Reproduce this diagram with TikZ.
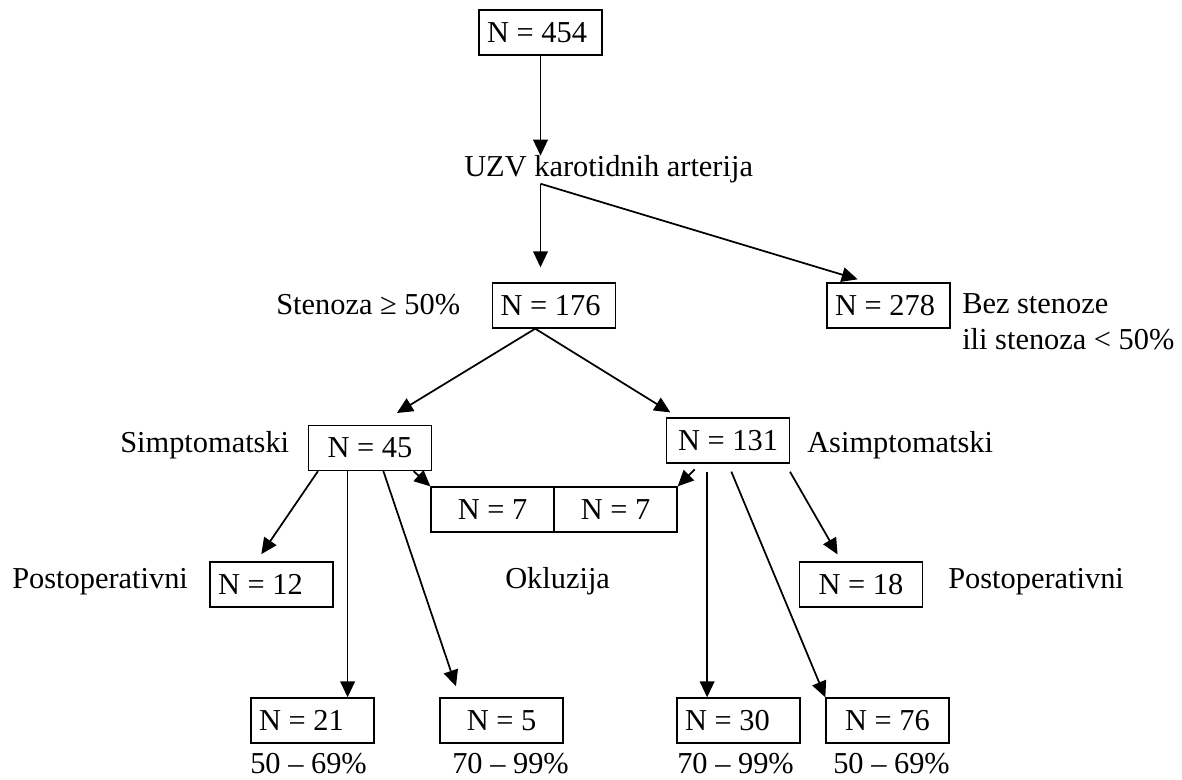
\documentclass[tikz,border=0pt]{standalone}
\usepackage{fontspec}
\setmainfont{Liberation Serif}
\usetikzlibrary{arrows.meta}

\newcommand\lft[1]{\makebox[80pt][l]{#1}}

\begin{document}
\begin{tikzpicture}[x=0.75pt,y=-0.75pt,
  font=\fontsize{22.8}{27}\selectfont,
  box/.style={draw, line width=1pt, minimum width=92.25pt, minimum height=33.75pt, inner sep=0pt},
  txt/.style={anchor=base west, inner sep=0pt},
  arr/.style={-{Triangle[length=12pt,width=11pt]}, line width=1.3pt}]

\useasboundingbox (0,0) rectangle (1182,780);

\node [box] (n454) at (540.5,32.5) {\lft{N = 454}};
\node [txt] (uzv) at (464,177) {UZV karotidnih arterija};

\node [txt] (sten) at (276,315) {Stenoza ≥ 50\%};
\node [box] (n176) at (554,305.5) {\lft{N = 176}};
\node [box] (n278) at (888.5,305.5) {\lft{N = 278}};
\node [txt] (bez) at (962,314) {Bez stenoze};
\node [txt] (ili) at (962,350) {ili stenoza < 50\%};

\node [txt] (simp) at (120,453) {Simptomatski};
\node [box] (n45) at (370,448) {N = 45};
\node [box] (n131) at (728,440.5) {N = 131};
\node [txt] (asimp) at (807,453) {Asimptomatski};
\node [box] (n7a) at (492.5,509.5) {N = 7};
\node [box] (n7b) at (615.5,509.5) {N = 7};

\node [txt] (postl) at (12,588) {Postoperativni};
\node [box] (n12) at (271.5,584.5) {\lft{N = 12}};
\node [txt] (okl) at (505,588) {Okluzija};
\node [box] (n18) at (861,584.5) {N = 18};
\node [txt] (postr) at (948,588) {Postoperativni};

\node [box] (n21) at (312.5,720.5) {\lft{N = 21}};
\node [box] (n5) at (501.5,720.5) {N = 5};
\node [box] (n30) at (738.5,720.5) {\lft{N = 30}};
\node [box] (n76) at (887.5,720.5) {N = 76};
\node [txt] (p21) at (250,773) {50 – 69\%};
\node [txt] (p5) at (452,773) {70 – 99\%};
\node [txt] (p30) at (677,773) {70 – 99\%};
\node [txt] (p76) at (833,773) {50 – 69\%};

\coordinate (fork) at (n454 |- uzv.south);

\draw [arr] (n454) -- (n454 |- uzv.north);
\draw [arr, shorten >=11.25pt] (fork) -- (fork |- n176.north);
\draw [arr, shorten >=7.8pt] (fork) -- (n278.132);

\draw [arr, shorten >=17pt] (n176.231) -- (n45.72);
\draw [arr, shorten >=7pt] (n176.231) -- (n131.155);

\draw [arr] (n45.332) -- (n7a.north west);
\draw [arr, shorten <=6pt] (n131.220) -- (n7b.north east);

\draw [arr, shorten >=6.5pt] (n45.204) -- (n12.123);
\draw [arr] (n45.226) -- (n45.226 |- n21.north);
\draw [arr, shorten >=8.8pt] (n45.300) -- (n5.151);

\draw [arr, shorten <=6pt] (n131.228) -- (n131.228 |- n30.north);
\draw [arr, shorten <=6.5pt] (n131.south) -- (n76.north west);
\draw [arr, shorten <=7pt, shorten >=6pt] (n131.338) -- (n18.130);

\end{tikzpicture}
\end{document}
